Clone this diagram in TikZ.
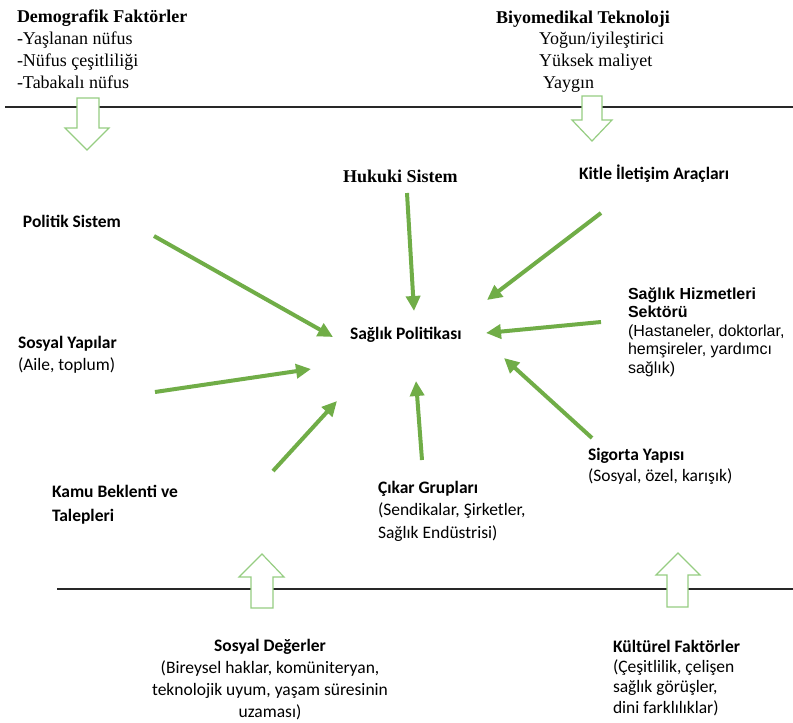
\documentclass[tikz,border=0pt]{standalone}
\usepackage{fontspec}
\setmainfont{Liberation Serif}
\newfontfamily\calfont{Carlito}
\newfontfamily\arifont{Liberation Sans}
\usetikzlibrary{arrows.meta}
\definecolor{grn}{RGB}{112,173,71}
\definecolor{lgrn}{RGB}{150,205,130}
\definecolor{rulec}{RGB}{40,40,40}
\begin{document}
\begin{tikzpicture}[x=1pt,y=-1pt,
  lbl/.style={inner sep=0pt, outer sep=0pt, anchor=base west, align=left},
  tms/.style={lbl, font=\fontsize{18}{21.7}\selectfont},
  clb/.style={lbl, font=\calfont\fontsize{17.5}{22}\selectfont},
  arl/.style={lbl, font=\arifont\fontsize{16}{18.5}\selectfont},
  inf/.style={draw=grn, line width=4pt, -{Triangle[length=15pt,width=14pt]}},
  blk/.style={draw=lgrn, line width=1.2pt, fill=white, line join=miter},
  seprule/.style={draw=rulec, line width=1.5pt}]
\useasboundingbox (0,0) rectangle (793,723);
\fill[white] (0,0) rectangle (793,723);

% separator lines
\coordinate (topL) at (5,107);
\coordinate (topR) at (793,107);
\coordinate (botL) at (57,589);
\coordinate (botR) at (793,589);
\draw[seprule] (topL) -- (topR);
\draw[seprule] (botL) -- (botR);

% block arrows
\draw[blk] (77,98) -- (99,98) -- (99,128) -- (109,128) -- (87,150) -- (65,128) -- (77,128) -- cycle;
\draw[blk] (582,96) -- (602,96) -- (602,120) -- (612,120) -- (592,141) -- (572,120) -- (582,120) -- cycle;
\draw[blk] (251,608) -- (273,608) -- (273,577) -- (284,577) -- (262,554) -- (239,577) -- (251,577) -- cycle;
\draw[blk] (667,607) -- (688,607) -- (688,575) -- (700,575) -- (678,553) -- (656,575) -- (667,575) -- cycle;

% texts (multi-line nodes: base = baseline of last line)
\node[tms] (demo) at (17,88) {\textbf{Demografik Faktörler}\\-Yaşlanan nüfus\\-Nüfus çeşitliliği\\-Tabakalı nüfus};
\node[tms] (bio) at (496,23) {\textbf{Biyomedikal Teknoloji}};
\node[tms] (bioitems) at (539,88) {Yoğun/iyileştirici\\Yüksek maliyet\\\hspace*{4pt}Yaygın};
\node[tms] (huk) at (343,182) {\textbf{Hukuki Sistem}};
\node[clb] (kitle) at (579,179) {\textbf{Kitle İletişim Araçları}};
\node[clb] (pol) at (23,227) {\textbf{Politik Sistem}};
\node[clb] (sp) at (350,339) {\textbf{Sağlık Politikası}};
\node[clb] (sy) at (18,370) {\textbf{Sosyal Yapılar}\\(Aile, toplum)};
\node[arl] (shs) at (628,373) {\textbf{Sağlık Hizmetleri}\\\textbf{Sektörü}\\(Hastaneler, doktorlar,\\hemşireler, yardımcı\\sağlık)};
\node[clb, font=\calfont\fontsize{17.5}{21}\selectfont] (sig) at (588,481) {\textbf{Sigorta Yapısı}\\(Sosyal, özel, karışık)};
\node[clb, font=\calfont\fontsize{17.5}{22.5}\selectfont] (cik) at (378,538) {\textbf{Çıkar Grupları}\\(Sendikalar, Şirketler,\\Sağlık Endüstrisi)};
\node[clb, font=\calfont\fontsize{17.5}{24}\selectfont] (kamu) at (52,521) {\textbf{Kamu Beklenti ve}\\\textbf{Talepleri}};
\node[clb, anchor=base, align=center] (sd) at (270,717) {\textbf{Sosyal Değerler}\\(Bireysel haklar, komüniteryan,\\teknolojik uyum, yaşam süresinin\\uzaması)};
\node[clb, font=\calfont\fontsize{17.5}{20.3}\selectfont] (kf) at (613,713) {\textbf{Kültürel Faktörler}\\(Çeşitlilik, çelişen\\sağlık görüşler,\\dini farklılıklar)};

% influence arrows
\coordinate (polS) at (154,236);  \coordinate (polE) at (333,337);
\coordinate (hukS) at (407,193);  \coordinate (hukE) at (414,311);
\coordinate (kitS) at (601,213);  \coordinate (kitE) at (487,300);
\coordinate (shsS) at (601,322);  \coordinate (shsE) at (486,333);
\coordinate (sigS) at (592,438);  \coordinate (sigE) at (504,358);
\coordinate (cikS) at (422,460);  \coordinate (cikE) at (416,381);
\coordinate (kamS) at (273,471);  \coordinate (kamE) at (337,401);
\coordinate (syS)  at (155,392);  \coordinate (syE)  at (311,369);
\draw[inf] (polS) -- (polE);
\draw[inf] (hukS) -- (hukE);
\draw[inf] (kitS) -- (kitE);
\draw[inf] (shsS) -- (shsE);
\draw[inf] (sigS) -- (sigE);
\draw[inf] (cikS) -- (cikE);
\draw[inf] (kamS) -- (kamE);
\draw[inf] (syS) -- (syE);
\end{tikzpicture}
\end{document}
